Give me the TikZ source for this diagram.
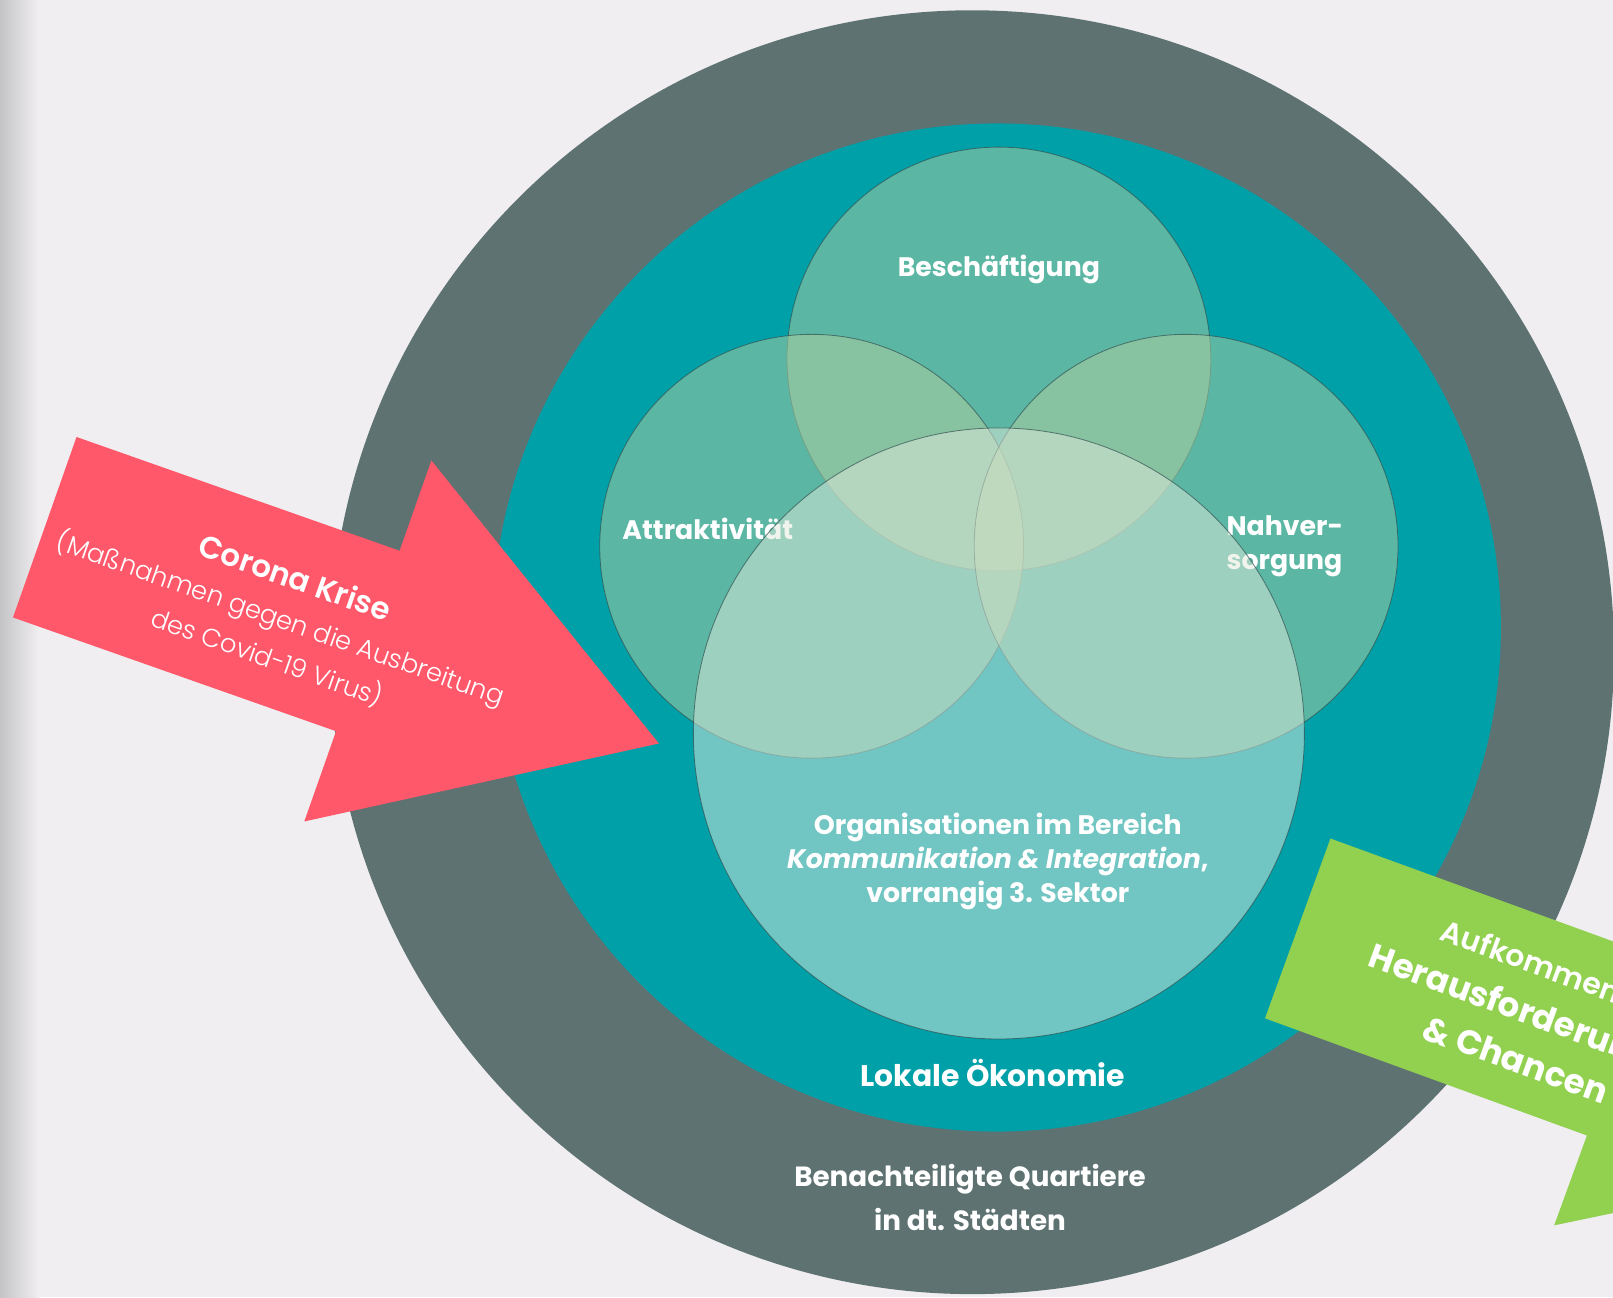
\documentclass[tikz,border=0pt]{standalone}
\usepackage{fontspec}
\setmainfont{Poppins}
\IfFontExistsTF{Poppins Light}{\newfontfamily\lightfont{Poppins Light}}{\newfontfamily\lightfont{Poppins}}
\usetikzlibrary{positioning}
\definecolor{bgcol}{RGB}{240,238,241}
\definecolor{edgegray}{RGB}{196,196,198}
\definecolor{ringgray}{RGB}{94,114,114}
\definecolor{okteal}{RGB}{0,160,168}
\definecolor{coronared}{RGB}{255,88,106}
\definecolor{chancegreen}{RGB}{146,208,80}
\definecolor{vennfill}{RGB}{176,206,160}
\definecolor{bigfill}{RGB}{226,234,220}
\definecolor{vennline}{RGB}{50,80,80}
\newcommand{\bigarrow}{(0,-93) -- (333,-93) -- (333,-186) -- (633,0) -- (333,186) -- (333,93) -- (0,93) -- cycle}

\begin{document}
\begin{tikzpicture}[x=1pt,y=-1pt,
  venn/.style={draw=vennline,draw opacity=0.7,line width=0.8pt,fill=vennfill,fill opacity=0.52},
  bigvenn/.style={draw=vennline,draw opacity=0.7,line width=0.8pt,fill=bigfill,fill opacity=0.5},
  vennlabel/.style={text=white,font=\bfseries\fontsize{26}{33}\selectfont,inner sep=0pt},
  ringlabel/.style={text=white,font=\bfseries\fontsize{27}{43}\selectfont,align=center,inner sep=0pt},
  armtext/.style={text=white,align=center,inner sep=0pt}]
\useasboundingbox (0,0) rectangle (1568,1261);
\fill[bgcol] (0,0) rectangle (1568,1261);
\shade[left color=edgegray,right color=bgcol] (0,0) rectangle (38,1261);
\clip (0,0) rectangle (1568,1261);
\fill[ringgray] (945,634) circle (624);
\fill[okteal] (969,610) circle (490);
\node[ringlabel] (quartiere) at (943,1164) {Benachteiligte Quartiere\\in dt. Städten};
\node[ringlabel,font=\bfseries\fontsize{29}{33}\selectfont] (oekonomie) at (965,1043) {Lokale Ökonomie};
\begin{scope}[shift={(43.5,512.5)},rotate=-19.4]
\fill[coronared] \bigarrow;
\node[armtext,rotate=-19.4,font=\lightfont\fontsize{25}{40}\selectfont] (corona) at (246,7)
  {{\bfseries\fontsize{30}{40}\selectfont Corona Krise}\\(Maßnahmen gegen die Ausbreitung\\des Covid-19 Virus)};
\end{scope}
\begin{scope}[shift={(1261.5,902.5)},rotate=-20]
\fill[chancegreen] \bigarrow;
\node[armtext,rotate=-20,font=\bfseries\fontsize{33}{48}\selectfont] (chancen) at (243,0)
  {{\lightfont\fontsize{29}{44}\selectfont Aufkommende}\\Herausforderungen\\\& Chancen};
\end{scope}
\draw[venn] (971,349) circle (206);
\draw[venn] (789,531) circle (206);
\draw[venn] (1153,531) circle (206);
\node[vennlabel] (beschaeftigung) at (971,262) {Beschäftigung};
\node[vennlabel] (attraktiv) at (688,514) {Attraktivität};
\node[vennlabel,align=left] (nahversorgung) at (1249,531) {Nahver-\\sorgung};
\draw[bigvenn] (971,713) circle (297);
\node[ringlabel,font=\bfseries\fontsize{26}{33}\selectfont] (orga) at (970,837)
  {Organisationen im Bereich\\\textit{Kommunikation \& Integration},\\vorrangig 3. Sektor};
\end{tikzpicture}
\end{document}
